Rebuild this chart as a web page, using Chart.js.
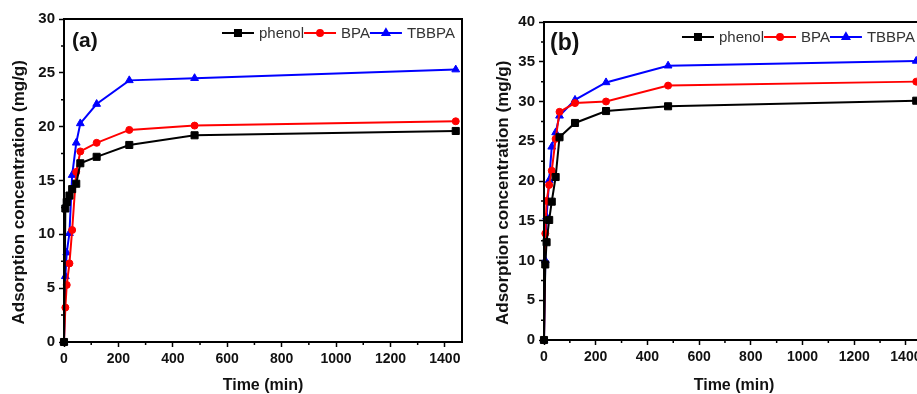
<!DOCTYPE html>
<html>
<head>
<meta charset="utf-8">
<script src="https://cdn.jsdelivr.net/npm/chart.js@4/dist/chart.umd.min.js"></script>
<style>
  html, body { margin: 0; padding: 0; background: #fff; overflow: hidden; width: 917px; height: 394px; }
  .box { position: absolute; top: 0; }
  #boxA { left: 0; }
  #boxB { left: 470px; }
</style>
</head>
<body>
<div class="box" id="boxA"><canvas id="chartA" width="470" height="394"></canvas></div>
<div class="box" id="boxB"><canvas id="chartB" width="460" height="394"></canvas></div>
<script>
// sampling times (min)
const times = [0, 5, 10, 20, 30, 45, 60, 120, 240, 480, 1440];
const seriesNames = ["phenol", "BPA", "TBBPA"];

// panel (a)
const phenolA = [0, 12.4, 13.0, 13.6, 14.2, 14.7, 16.6, 17.2, 18.3, 19.2, 19.6];
const bpaA    = [0, 3.2, 5.3, 7.3, 10.4, 15.8, 17.7, 18.5, 19.7, 20.1, 20.5];
const tbbpaA  = [0, 6.1, 8.3, 10.1, 15.5, 18.5, 20.3, 22.1, 24.3, 24.5, 25.3];

// panel (b)
const phenolB = [0, 9.5, 12.3, 15.1, 17.4, 20.5, 25.5, 27.3, 28.8, 29.4, 30.1];
const bpaB    = [0, 13.4, 17.5, 19.5, 21.3, 25.3, 28.7, 29.8, 30.0, 32.0, 32.5];
const tbbpaB  = [0, 10.0, 15.5, 20.1, 24.3, 26.1, 28.2, 30.2, 32.4, 34.5, 35.1];

// tick labels
const xTicks = [0, 200, 400, 600, 800, 1000, 1200, 1400];
const xMinor = [100, 300, 500, 700, 900, 1100, 1300];
const yTicksA = [0, 5, 10, 15, 20, 25, 30];
const yMinorA = [2.5, 7.5, 12.5, 17.5, 22.5, 27.5];
const yTicksB = [0, 5, 10, 15, 20, 25, 30, 35, 40];
const yMinorB = [2.5, 7.5, 12.5, 17.5, 22.5, 27.5, 32.5, 37.5];

const colors = ["#000000", "#ff0000", "#0000ff"];
const styles = ["rect", "circle", "triangle"];
const radii = [5, 3.5, 4.5];
const FONT = "Arial, 'Liberation Sans', sans-serif";
// trailing spaces nudge the rotated title a little lower, as in the figure
const yTitle = "Adsorption concentration (mg/g)     ";

function pts(vals) {
  return times.map((t, i) => ({ x: t, y: vals[i] }));
}

function makeDatasets(list) {
  return list.map((vals, i) => ({
    label: seriesNames[i],
    data: pts(vals),
    borderColor: colors[i],
    backgroundColor: colors[i],
    borderWidth: 2,
    pointStyle: styles[i],
    pointRadius: radii[i],
    pointBorderWidth: 1,
    showLine: true,
    tension: 0,
    clip: false,
  }));
}

const extras = {
  id: "extras",
  afterDatasetsDraw(chart, args, opts) {
    const { ctx, chartArea: a, scales: { x, y } } = chart;
    ctx.save();
    // minor ticks
    ctx.strokeStyle = "#000";
    ctx.lineWidth = 1.5;
    ctx.beginPath();
    xMinor.forEach(v => {
      const px = x.getPixelForValue(v);
      ctx.moveTo(px, a.bottom);
      ctx.lineTo(px, a.bottom + 3);
    });
    opts.yMinor.forEach(v => {
      const py = y.getPixelForValue(v);
      ctx.moveTo(a.left, py);
      ctx.lineTo(a.left - 3, py);
    });
    ctx.stroke();
    // frame
    ctx.lineWidth = 2;
    ctx.strokeRect(a.left, a.top, a.right - a.left, a.bottom - a.top);

    // panel label
    ctx.fillStyle = "#111";
    ctx.font = "bold " + opts.labelSize + "px " + FONT;
    ctx.textBaseline = "alphabetic";
    ctx.fillText(opts.label, a.left + opts.labelDx, a.top + 28);

    // legend
    ctx.font = "15px " + FONT;
    const lineLen = 32, gap = 5;
    const items = chart.data.datasets;
    let total = 0;
    items.forEach(d => { total += lineLen + gap + ctx.measureText(d.label).width; });
    let lx = a.right - opts.legendRight - total;
    const ly = opts.legendY;
    items.forEach(d => {
      ctx.strokeStyle = d.borderColor;
      ctx.fillStyle = d.backgroundColor;
      ctx.lineWidth = 2;
      ctx.beginPath();
      ctx.moveTo(lx, ly);
      ctx.lineTo(lx + lineLen, ly);
      ctx.stroke();
      Chart.helpers.drawPoint(ctx, { pointStyle: d.pointStyle, rotation: 0, radius: d.pointRadius * 0.85, borderWidth: 1 }, lx + lineLen / 2, ly);
      ctx.fillStyle = "#333";
      ctx.textBaseline = "middle";
      ctx.fillText(d.label, lx + lineLen + gap, ly + 1);
      lx += lineLen + gap + ctx.measureText(d.label).width;
    });
    ctx.restore();
  }
};

function makeChart(id, list, cfg) {
  return new Chart(document.getElementById(id), {
    type: "scatter",
    data: { datasets: makeDatasets(list) },
    plugins: [extras],
    options: {
      responsive: false,
      animation: false,
      layout: { padding: { left: 0, top: cfg.top, right: cfg.right, bottom: 0 } },
      plugins: {
        legend: { display: false },
        tooltip: { enabled: false },
        extras: cfg.extras,
      },
      scales: {
        x: {
          type: "linear",
          min: 0,
          max: cfg.xMax,
          afterBuildTicks: s => { s.ticks = xTicks.map(v => ({ value: v })); },
          afterFit: s => { s.height = cfg.xHeight; },
          grid: { drawOnChartArea: false, tickLength: 5, tickWidth: 1.5, tickColor: "#000" },
          border: { color: "#000", width: 2 },
          ticks: { font: { family: FONT, size: 14, weight: "bold" }, color: "#111", padding: 4, maxRotation: 0, autoSkip: false, callback: v => String(v) },
          title: { display: true, text: "Time (min)", font: { family: FONT, size: 16, weight: "bold", lineHeight: 1.0 }, color: "#111", padding: { top: 0, bottom: 0 } },
        },
        y: {
          type: "linear",
          min: 0,
          max: cfg.yMax,
          afterBuildTicks: s => { s.ticks = cfg.yTicks.map(v => ({ value: v })); },
          afterFit: s => { s.width = cfg.yWidth; },
          grid: { drawOnChartArea: false, tickLength: 5, tickWidth: 1.5, tickColor: "#000" },
          border: { color: "#000", width: 2 },
          ticks: { font: { family: FONT, size: 15, weight: "bold" }, color: "#111", padding: 4, autoSkip: false, callback: v => String(v) },
          title: { display: true, text: yTitle, font: { family: FONT, size: 17, weight: "bold" }, color: "#111", padding: { top: cfg.yTitlePad, bottom: 0 } },
        },
      },
    },
  });
}

const chartA = makeChart("chartA", [phenolA, bpaA, tbbpaA], {
  top: 19, right: 8, xMax: 1463, yMax: 30, yTicks: yTicksA, yWidth: 64, xHeight: 52, yTitlePad: 9,
  extras: { yMinor: yMinorA, label: "(a)", labelSize: 21, labelDx: 8, legendRight: 7, legendY: 33 },
});

const chartB = makeChart("chartB", [phenolB, bpaB, tbbpaB], {
  top: 22, right: 6, xMax: 1470, yMax: 40, yTicks: yTicksB, yWidth: 74, xHeight: 54, yTitlePad: 23,
  extras: { yMinor: yMinorB, label: "(b)", labelSize: 23, labelDx: 6, legendRight: 9, legendY: 37 },
});
</script>
</body>
</html>
